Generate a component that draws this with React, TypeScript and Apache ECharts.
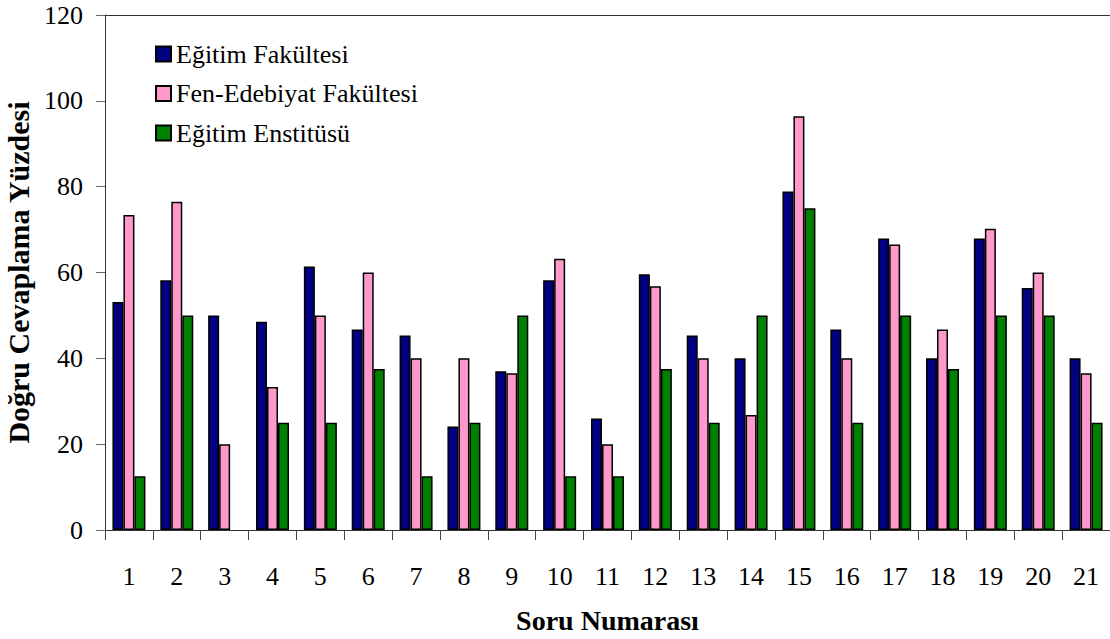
import React, { useEffect, useRef } from "react";
import * as echarts from "echarts";

const categories = ["1","2","3","4","5","6","7","8","9","10","11","12","13","14","15","16","17","18","19","20","21"];
const egitimFakultesi = [53.1, 58.2, 50, 48.5, 61.4, 46.7, 45.3, 24.1, 37, 58.2, 26, 59.6, 45.3, 40, 78.9, 46.7, 67.9, 40, 67.9, 56.4, 40];
const fenEdebiyat = [73.4, 76.5, 20, 33.3, 50, 60, 40, 40, 36.5, 63.2, 20, 56.8, 40, 26.8, 96.4, 40, 66.5, 46.7, 70.2, 60, 36.5];
const egitimEnstitusu = [12.5, 50, null, 25, 25, 37.5, 12.5, 25, 50, 12.5, 12.5, 37.5, 25, 50, 75, 25, 50, 37.5, 50, 50, 25];
const seriesNames = ["Eğitim Fakültesi", "Fen-Edebiyat Fakültesi", "Eğitim Enstitüsü"];
const seriesColors = ["#000080", "#FF99CC", "#008000"];

const FONT = "Liberation Serif";

export default function App() {
  const ref = useRef<HTMLDivElement>(null);
  useEffect(() => {
    if (!ref.current) return;
    const chart = echarts.init(ref.current, undefined, { renderer: "svg" });
    const dataSets = [egitimFakultesi, fenEdebiyat, egitimEnstitusu];
    chart.setOption({
      animation: false,
      backgroundColor: "#fff",
      textStyle: { fontFamily: FONT, fontWeight: "normal" },
      grid: { left: 105, right: 0, top: 15, bottom: 109, containLabel: false, outerBoundsMode: "none" },
      legend: {
        orient: "vertical",
        left: 150,
        top: 36,
        itemWidth: 15,
        itemHeight: 15,
        itemGap: 13.5,
        icon: "rect",
        textStyle: {
          fontFamily: "serif",
          fontSize: 26,
          fontWeight: "normal",
          color: "#000",
        },
        data: seriesNames,
      },
      xAxis: [
        {
          type: "category",
          data: categories,
          axisLine: { show: true, lineStyle: { color: "#333", width: 1 } },
          axisTick: { show: true, length: 10, lineStyle: { color: "#444" } },
          axisLabel: { fontFamily: FONT, fontSize: 26, color: "#000", margin: 33 },
          name: "Soru Numarası",
          nameLocation: "middle",
          nameGap: 76,
          nameTextStyle: { fontFamily: FONT, fontSize: 28, fontWeight: "bold", color: "#000" },
        },
        {
          type: "category",
          data: categories,
          position: "top",
          axisLine: { show: true, lineStyle: { color: "#333", width: 1 } },
          axisTick: { show: false },
          axisLabel: { show: false },
        },
      ],
      yAxis: {
        type: "value",
        min: 0,
        max: 120,
        interval: 20,
        axisLine: { show: true, lineStyle: { color: "#333", width: 1 } },
        axisTick: { show: true, inside: false, length: 9, lineStyle: { color: "#666" } },
        splitLine: { show: false },
        axisLabel: { fontFamily: FONT, fontSize: 26, color: "#000", margin: 22 },
        name: "Doğru Cevaplama Yüzdesi",
        nameLocation: "middle",
        nameGap: 70,
        nameTextStyle: { fontFamily: FONT, fontSize: 30, fontWeight: "bold", color: "#000" },
      },
      series: seriesNames.map((name, i) => ({
        name,
        type: "bar",
        xAxisIndex: 0,
        data: dataSets[i],
        barGap: "0%",
        barWidth: 11,
        itemStyle: { color: seriesColors[i], borderColor: "#000", borderWidth: 1.5 },
      })),
    });
    return () => chart.dispose();
  }, []);
  return (
    <div
      ref={ref}
      style={{ position: "absolute", left: 0, top: 0, width: 1110, height: 639 }}
    />
  );
}
